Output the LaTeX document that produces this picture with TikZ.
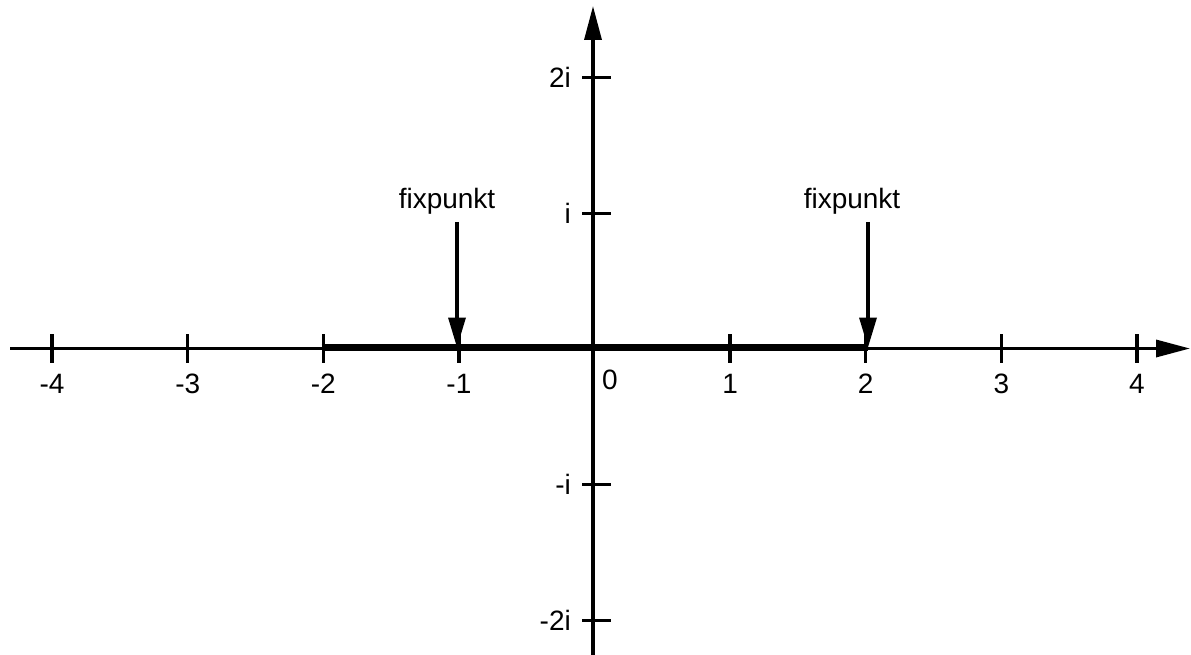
\documentclass[tikz,border=0pt]{standalone}
\usepackage{fontspec}
\setmainfont{Liberation Sans}
\usetikzlibrary{arrows.meta}
\tikzset{
  axis/.style={line width=3.4pt,-{Triangle[length=34pt,width=17pt]}},
  thickseg/.style={line width=6.5pt},
  tickmark/.style={line width=3.4pt},
  lbl/.style={font=\fontsize{28}{28}\selectfont,inner sep=0pt},
  fixarrow/.style={line width=3.4pt,-{Triangle[length=30pt,width=17pt]}}
}
\begin{document}
\begin{tikzpicture}[x=1pt,y=-1pt]
\useasboundingbox (0,0) rectangle (1191,655);
% axis ends
\coordinate (xl) at (10,348.5);
\coordinate (xr) at (1190,348.5);
\coordinate (yb) at (593,655);
\coordinate (yt) at (593,6);
\coordinate (m2) at (321.5,347.5);
\coordinate (p2) at (868,347.5);
\coordinate (m1) at (457,347.5);
% thick segment
\draw[thickseg] (m2) -- (p2);
\draw[axis] (xl) -- (xr);
\draw[axis] (yb) -- (yt);
% x ticks and labels
\foreach \k/\t in {-4/-4,-3/-3,-2/-2,-1/-1,1/1,2/2,3/3,4/4}{
  \pgfmathsetmacro{\xx}{594.5+135.6*\k}
  \draw[tickmark] (\xx,334) -- (\xx,363);
  \node[lbl] (xlab\t) at (\xx,384) {\t};
}
\node[lbl] (zero) at (610,380) {0};
% y ticks and labels
\foreach \k/\t/\n in {2/2i/a,1/i/b,-1/-i/c,-2/-2i/d}{
  \pgfmathsetmacro{\yy}{349-135.7*\k}
  \draw[tickmark] (582,\yy) -- (611,\yy);
  \node[lbl,anchor=east] (ylab\n) at (571,\yy) {\t};
}
% fixpunkt labels and arrows
\node[lbl,anchor=base] (fa) at (447,209) {fixpunkt};
\node[lbl,anchor=base] (fb) at (852,209) {fixpunkt};
\coordinate (fas) at (457,222);
\coordinate (fbs) at (868,222);
\draw[fixarrow] (fas) -- (m1);
\draw[fixarrow] (fbs) -- (p2);
\end{tikzpicture}
\end{document}
